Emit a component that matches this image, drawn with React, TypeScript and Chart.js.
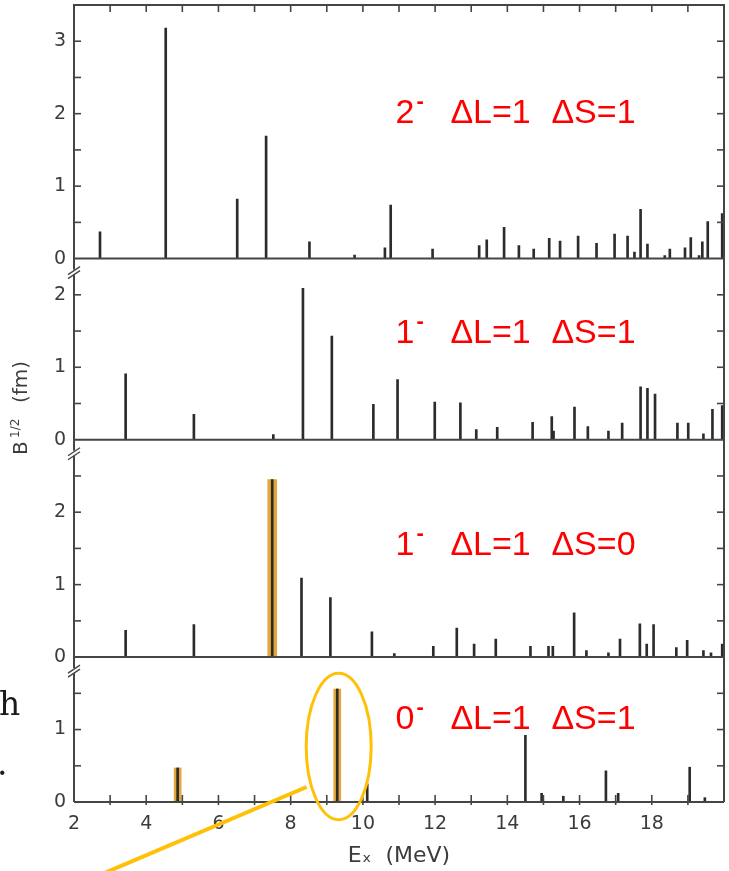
import React, { useEffect, useRef } from 'react';
import { Chart, registerables } from 'chart.js';

Chart.register(...registerables);

// ---------- data ----------
const xTickLabels = [2, 4, 6, 8, 10, 12, 14, 16, 18];

// panel 1: 2-  ΔL=1 ΔS=1
const p1E = [2.72, 4.54, 6.52, 7.32, 8.52, 9.77, 10.61, 10.77, 11.93, 13.22, 13.43, 13.91, 14.32, 14.73, 15.16, 15.46, 15.96, 16.47, 16.97, 17.33, 17.52, 17.69, 17.88, 18.36, 18.5, 18.92, 19.08, 19.31, 19.4, 19.55, 19.95];
const p1B = [0.37, 3.18, 0.82, 1.69, 0.23, 0.05, 0.15, 0.74, 0.13, 0.18, 0.26, 0.43, 0.18, 0.13, 0.28, 0.24, 0.31, 0.21, 0.34, 0.31, 0.09, 0.68, 0.2, 0.04, 0.13, 0.15, 0.29, 0.04, 0.23, 0.51, 0.62];

// panel 2: 1-  ΔL=1 ΔS=1
const p2E = [3.43, 5.32, 7.52, 8.34, 9.14, 10.29, 10.96, 11.99, 12.7, 13.14, 13.72, 14.7, 15.23, 15.28, 15.86, 16.23, 16.8, 17.18, 17.69, 17.88, 18.09, 18.71, 19.01, 19.43, 19.68, 19.95];
const p2B = [0.91, 0.35, 0.07, 2.09, 1.43, 0.49, 0.83, 0.52, 0.51, 0.14, 0.17, 0.24, 0.32, 0.12, 0.45, 0.18, 0.12, 0.23, 0.73, 0.71, 0.63, 0.23, 0.23, 0.08, 0.42, 0.47];

// panel 3: 1-  ΔL=1 ΔS=0
const p3E = [3.43, 5.32, 7.49, 8.3, 9.1, 10.25, 10.87, 11.95, 12.6, 13.08, 13.68, 14.64, 15.14, 15.26, 15.85, 16.19, 16.8, 17.12, 17.67, 17.86, 18.05, 18.68, 18.98, 19.43, 19.64, 19.95];
const p3B = [0.37, 0.45, 2.45, 1.09, 0.82, 0.35, 0.05, 0.15, 0.4, 0.18, 0.25, 0.15, 0.15, 0.15, 0.61, 0.09, 0.06, 0.25, 0.46, 0.18, 0.45, 0.13, 0.23, 0.09, 0.06, 0.18];

// panel 4: 0-  ΔL=1 ΔS=1
const p4E = [4.87, 9.29, 10.12, 14.5, 14.95, 15.55, 16.73, 17.07, 19.05, 19.47];
const p4B = [0.47, 1.56, 0.25, 0.92, 0.12, 0.08, 0.43, 0.12, 0.48, 0.06];

// highlighted (orange) states
const hl3E = [7.49];
const hl3B = [2.45];
const hl4E = [4.87, 9.29];
const hl4B = [0.47, 1.56];

const panelMax = [3.5, 2.5, 3.0, 2.0];
const panelJ = ['2', '1', '1', '0'];
const panelDL = ['ΔL=1', 'ΔL=1', 'ΔL=1', 'ΔL=1'];
const panelDS = ['ΔS=1', 'ΔS=1', 'ΔS=0', 'ΔS=1'];
const labelE = 10.9;
const labelB = [1.87, 1.335, 1.41, 1.01];

// circled state (panel 4)
const circleE = 9.33;
const circleB = 0.766;
const circleRE = 0.9;
const circleRB = 1.01;
const pointerE = [8.44, 2.75];
const pointerB = [0.207, -1.0];

// ---------- chart ----------
const ids = ['y1', 'y2', 'y3', 'y4'];
const allE = [p1E, p2E, p3E, p4E];
const allB = [p1B, p2B, p3B, p4B];
const pts = (e: number[], b: number[]) => e.map((x, i) => ({ x, y: b[i] }));

const TICK_FONT = { family: 'DejaVu Sans', size: 19 };
const AXIS_COLOR = '#454545';

const framePlugin = {
  id: 'frame',
  afterDatasetsDraw(chart: any) {
    const { ctx, chartArea: ca, scales } = chart;
    const xs = scales.x;
    ctx.save();
    ctx.strokeStyle = AXIS_COLOR;
    ctx.lineWidth = 2;
    const line = (x1: number, y1: number, x2: number, y2: number) => {
      ctx.beginPath();
      ctx.moveTo(x1, y1);
      ctx.lineTo(x2, y2);
      ctx.stroke();
    };
    // outer frame
    ctx.beginPath();
    ctx.moveTo(ca.left, ca.bottom);
    ctx.lineTo(ca.left, ca.top);
    ctx.lineTo(ca.right, ca.top);
    ctx.lineTo(ca.right, ca.bottom);
    ctx.stroke();
    // panel baselines and y ticks
    ids.forEach((id, i) => {
      const s = scales[id];
      const y0 = s.getPixelForValue(0);
      ctx.lineWidth = 2;
      line(ca.left, y0, ca.right, y0);
      ctx.lineWidth = 1.6;
      s.ticks.forEach((t: any) => {
        if (t.value <= 0 || t.value >= panelMax[i] - 1e-6) return;
        const y = s.getPixelForValue(t.value);
        line(ca.left, y, ca.left + 7, y);
        line(ca.right, y, ca.right - 7, y);
      });
    });
    // x ticks (top of first panel, bottom of last panel)
    xs.ticks.forEach((t: any) => {
      if (t.value <= xs.min || t.value >= xs.max) return;
      const x = xs.getPixelForValue(t.value);
      line(x, ca.top, x, ca.top + 7);
      line(x, ca.bottom + 3, x, ca.bottom - 7);
    });
    // axis breaks
    for (let i = 1; i < ids.length; i++) {
      const s = scales[ids[i]];
      const yb = s.top + 14;
      ctx.fillStyle = '#ffffff';
      ctx.fillRect(ca.left - 2, yb - 3, 4, 5);
      ctx.lineWidth = 1.4;
      line(ca.left - 6, yb + 2, ca.left + 6, yb - 6);
      line(ca.left - 6, yb + 6, ca.left + 6, yb - 2);
    }
    ctx.restore();
  },
  afterDraw(chart: any) {
    const { ctx, scales } = chart;
    const xs = scales.x;
    ctx.save();
    // red panel labels
    ctx.fillStyle = '#ff0000';
    ctx.textBaseline = 'alphabetic';
    ctx.textAlign = 'left';
    const x0 = xs.getPixelForValue(labelE);
    ids.forEach((id, i) => {
      const y = scales[id].getPixelForValue(labelB[i]);
      ctx.font = '34px "Liberation Sans"';
      ctx.fillText(panelJ[i], x0, y);
      ctx.fillText(panelDL[i], x0 + 55, y);
      ctx.fillText(panelDS[i], x0 + 156, y);
      ctx.font = 'bold 22px "Liberation Sans"';
      ctx.fillText('-', x0 + 21, y - 15);
    });
    // yellow circle + pointer
    const s4 = scales.y4;
    const cx = xs.getPixelForValue(circleE);
    const cy = s4.getPixelForValue(circleB);
    const rx = xs.getPixelForValue(circleE + circleRE) - cx;
    const ry = cy - s4.getPixelForValue(circleB + circleRB);
    ctx.strokeStyle = '#ffc107';
    ctx.lineWidth = 3;
    ctx.beginPath();
    ctx.ellipse(cx, cy, rx, ry, 0, 0, Math.PI * 2);
    ctx.stroke();
    ctx.lineWidth = 4;
    ctx.beginPath();
    ctx.moveTo(xs.getPixelForValue(pointerE[0]), s4.getPixelForValue(pointerB[0]));
    ctx.lineTo(xs.getPixelForValue(pointerE[1]), s4.getPixelForValue(pointerB[1]));
    ctx.stroke();
    // y axis title  B^{1/2} (fm)
    ctx.fillStyle = '#3c3c3c';
    ctx.translate(22, 455);
    ctx.rotate(-Math.PI / 2);
    ctx.textBaseline = 'middle';
    ctx.font = '20px "DejaVu Sans"';
    ctx.fillText('B', 0, 0);
    ctx.font = '12px "DejaVu Sans"';
    ctx.fillText('1/2', 17, -6);
    ctx.font = '20px "DejaVu Sans"';
    ctx.fillText('(fm)', 52, 0);
    ctx.restore();
    // cut-off page text at the left
    ctx.save();
    ctx.fillStyle = '#1a1a1a';
    ctx.font = '33px "DejaVu Serif"';
    ctx.textBaseline = 'alphabetic';
    ctx.fillText('h', -1, 715);
    ctx.fillText('.', -3, 775);
    ctx.restore();
  },
};

function yScale(i: number) {
  return {
    type: 'linear',
    position: 'left',
    stack: 'panels',
    stackWeight: panelMax[i],
    weight: 10 - i,
    min: 0,
    max: panelMax[i],
    grid: { display: false, drawTicks: false },
    border: { display: false },
    ticks: {
      stepSize: 0.5,
      autoSkip: false,
      padding: 8,
      font: TICK_FONT,
      color: '#3c3c3c',
      callback: (v: number) => (Number.isInteger(v) && v < panelMax[i] ? String(v) : ''),
    },
    afterFit: (s: any) => {
      s.width = 74;
      s.paddingTop = 0;
      s.paddingBottom = 0;
    },
  };
}

export default function App() {
  const ref = useRef<HTMLCanvasElement>(null);
  useEffect(() => {
    const datasets: any[] = allE.map((e, i) => ({
      type: 'bar',
      data: pts(e, allB[i]),
      yAxisID: ids[i],
      backgroundColor: '#2c2c2c',
      barThickness: 2,
      grouped: false,
      order: 0,
    }));
    datasets.push({
      type: 'bar',
      data: pts(hl3E, hl3B),
      yAxisID: 'y3',
      backgroundColor: '#e3a53c',
      barThickness: 9,
      grouped: false,
      order: 1,
    });
    datasets.push({
      type: 'bar',
      data: pts(hl4E, hl4B),
      yAxisID: 'y4',
      backgroundColor: '#e3a53c',
      barThickness: 7,
      grouped: false,
      order: 1,
    });
    const scales: any = {
      x: {
        type: 'linear',
        position: 'bottom',
        min: 2,
        max: 20,
        offset: false,
        grid: { display: false, drawTicks: false },
        border: { display: false },
        ticks: {
          stepSize: 1,
          autoSkip: false,
          maxRotation: 0,
          padding: 11,
          font: TICK_FONT,
          color: '#3c3c3c',
          callback: (v: number) => (xTickLabels.includes(v) ? String(v) : ''),
        },
        title: {
          display: true,
          text: 'Eₓ  (MeV)',
          color: '#3c3c3c',
          font: { family: 'DejaVu Sans', size: 22 },
          padding: { top: 0, bottom: 2 },
        },
        afterFit: (s: any) => {
          s.height = 69;
          s.paddingLeft = 0;
          s.paddingRight = 0;
        },
      },
    };
    ids.forEach((id, i) => (scales[id] = yScale(i)));
    const chart = new Chart(ref.current as HTMLCanvasElement, {
      type: 'bar',
      data: { datasets },
      options: {
        animation: false,
        responsive: false,
        devicePixelRatio: 1,
        layout: { autoPadding: false, padding: { top: 5, right: 5, left: 0, bottom: 0 } },
        plugins: { legend: { display: false }, tooltip: { enabled: false } },
        scales,
      } as any,
      plugins: [framePlugin],
    } as any);
    return () => chart.destroy();
  }, []);
  return (
    <div style={{ position: 'fixed', left: 0, top: 0, width: 729, height: 871, background: '#ffffff' }}>
      <canvas ref={ref} width={729} height={871} style={{ display: 'block', width: 729, height: 871 }} />
    </div>
  );
}
